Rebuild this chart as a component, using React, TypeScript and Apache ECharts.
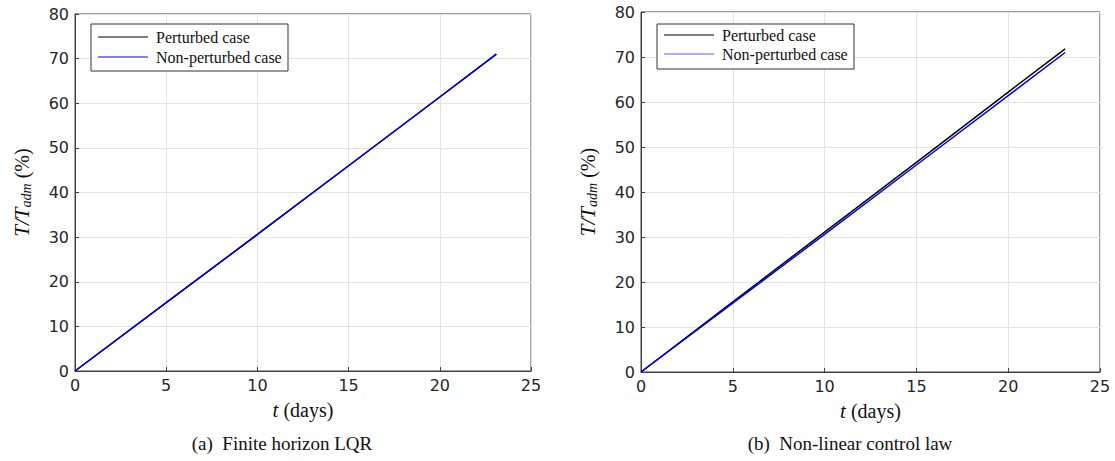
import React, { useEffect, useRef } from "react";
import * as echarts from "echarts";

const xTicks = [0, 5, 10, 15, 20, 25];
const yTicks = [0, 10, 20, 30, 40, 50, 60, 70, 80];
const seriesNames = ["Perturbed case", "Non-perturbed case"];
const captions = ["(a)  Finite horizon LQR", "(b)  Non-linear control law"];

// Left: finite horizon LQR (t in days, T/Tadm in %)
const lqrPerturbed: [number, number][] = [[0, 0], [5, 15.3], [10, 30.6], [15, 46.0], [20, 61.4], [23.1, 71.0]];
const lqrNominal: [number, number][] = [[0, 0], [5, 15.3], [10, 30.6], [15, 46.0], [20, 61.4], [23.1, 71.0]];
// Right: non-linear control law
const nlPerturbed: [number, number][] = [[0, 0], [5, 15.6], [10, 31.1], [15, 46.6], [20, 62.2], [23.1, 71.8]];
const nlNominal: [number, number][] = [[0, 0], [5, 15.3], [10, 30.6], [15, 46.0], [20, 61.4], [23.1, 71.0]];

const TICK = "#262626";
const AXIS = "#404040";
const GRIDLINE = "#e3e3e3";
const SERIF = "'Liberation Serif', 'DejaVu Serif', serif";

function xAxisFor(gridIndex: number) {
  return {
    type: "value",
    gridIndex,
    min: 0,
    max: 25,
    interval: 5,
    name: "{i|t} {n|(days)}",
    nameLocation: "middle",
    nameGap: 28,
    nameTextStyle: {
      fontFamily: SERIF,
      fontSize: 20,
      color: "#111",
      rich: {
        i: { fontFamily: SERIF, fontStyle: "italic", fontSize: 21, color: "#111" },
        n: { fontFamily: SERIF, fontSize: 20, color: "#111" },
      },
    },
    axisLine: { show: true, lineStyle: { color: AXIS, width: 1 } },
    axisTick: { show: true, inside: true, length: 4, lineStyle: { color: AXIS } },
    axisLabel: { color: TICK, fontFamily: "DejaVu Sans", fontSize: 16, margin: 6 },
    splitLine: { show: true, lineStyle: { color: GRIDLINE, width: 1 } },
  };
}

function yAxisFor(gridIndex: number) {
  return {
    type: "value",
    gridIndex,
    min: 0,
    max: 80,
    interval: 10,
    name: "{i|T/T}{s|adm}{n| (%)}",
    nameLocation: "middle",
    nameRotate: 90,
    nameGap: 42,
    nameTextStyle: {
      fontFamily: SERIF,
      fontSize: 20,
      color: "#111",
      rich: {
        i: { fontFamily: SERIF, fontStyle: "italic", fontSize: 21, color: "#111" },
        s: { fontFamily: SERIF, fontStyle: "italic", fontSize: 14, color: "#111", verticalAlign: "bottom", padding: [9, 0, 0, 0] },
        n: { fontFamily: SERIF, fontSize: 20, color: "#111" },
      },
    },
    axisLine: { show: true, lineStyle: { color: AXIS, width: 1 } },
    axisTick: { show: true, inside: true, length: 4, lineStyle: { color: AXIS } },
    axisLabel: { color: TICK, fontFamily: "DejaVu Sans", fontSize: 16, margin: 6 },
    splitLine: { show: true, lineStyle: { color: GRIDLINE, width: 1 } },
  };
}

function legendGraphic(x: number, y: number, w: number, h: number, row1: number, row2: number, color2: string) {
  const txt = (t: string, yy: number) => ({
    type: "text",
    x: x + 65,
    y: yy,
    style: { text: t, fontFamily: SERIF, fontSize: 16, fill: "#111", verticalAlign: "middle" },
  });
  return [
    { type: "rect", shape: { x, y, width: w, height: h }, style: { fill: "#fff", stroke: "#333", lineWidth: 1 }, z: 100 },
    { type: "line", shape: { x1: x + 7, y1: row1, x2: x + 57, y2: row1 }, style: { stroke: "#000", lineWidth: 1.2 }, z: 101 },
    { type: "line", shape: { x1: x + 7, y1: row2, x2: x + 57, y2: row2 }, style: { stroke: color2, lineWidth: 1.2 }, z: 101 },
    { ...txt(seriesNames[0], row1), z: 101 },
    { ...txt(seriesNames[1], row2), z: 101 },
  ];
}

export default function App() {
  const ref = useRef<HTMLDivElement>(null);
  useEffect(() => {
    if (!ref.current) return;
    const chart = echarts.init(ref.current, null, { renderer: "svg" });
    chart.setOption({
      animation: false,
      backgroundColor: "#fff",
      grid: [
        { left: 75, top: 14, width: 456, height: 357, show: true, borderColor: AXIS, borderWidth: 1, backgroundColor: "transparent" },
        { left: 641, top: 12, width: 459, height: 360, show: true, borderColor: AXIS, borderWidth: 1, backgroundColor: "transparent" },
      ],
      xAxis: [xAxisFor(0), xAxisFor(1)],
      yAxis: [yAxisFor(0), yAxisFor(1)],
      series: [
        { name: seriesNames[0], type: "line", xAxisIndex: 0, yAxisIndex: 0, data: lqrPerturbed, showSymbol: false, symbol: "none", lineStyle: { color: "#000", width: 1.5 } },
        { name: seriesNames[1], type: "line", xAxisIndex: 0, yAxisIndex: 0, data: lqrNominal, showSymbol: false, symbol: "none", lineStyle: { color: "#0000ee", width: 1.5 } },
        { name: seriesNames[0], type: "line", xAxisIndex: 1, yAxisIndex: 1, data: nlPerturbed, showSymbol: false, symbol: "none", lineStyle: { color: "#000", width: 1.5 } },
        { name: seriesNames[1], type: "line", xAxisIndex: 1, yAxisIndex: 1, data: nlNominal, showSymbol: false, symbol: "none", lineStyle: { color: "#0000ee", width: 1.5 } },
      ],
      graphic: [
        ...legendGraphic(91, 24, 197, 47, 37, 57, "#0000ee"),
        ...legendGraphic(657, 24, 197, 45, 35, 54, "#6060ff"),
        {
          type: "text", x: 282, y: 443,
          style: { text: captions[0], fontFamily: SERIF, fontSize: 19, fill: "#111", align: "center", verticalAlign: "middle" },
        },
        {
          type: "text", x: 850, y: 443,
          style: { text: captions[1], fontFamily: SERIF, fontSize: 19, fill: "#111", align: "center", verticalAlign: "middle" },
        },
      ],
    });
    return () => chart.dispose();
  }, []);
  return (
    <div style={{ position: "absolute", left: 0, top: 0, width: 1115, height: 461, background: "#fff" }}>
      <div ref={ref} style={{ width: 1115, height: 461 }} />
    </div>
  );
}
